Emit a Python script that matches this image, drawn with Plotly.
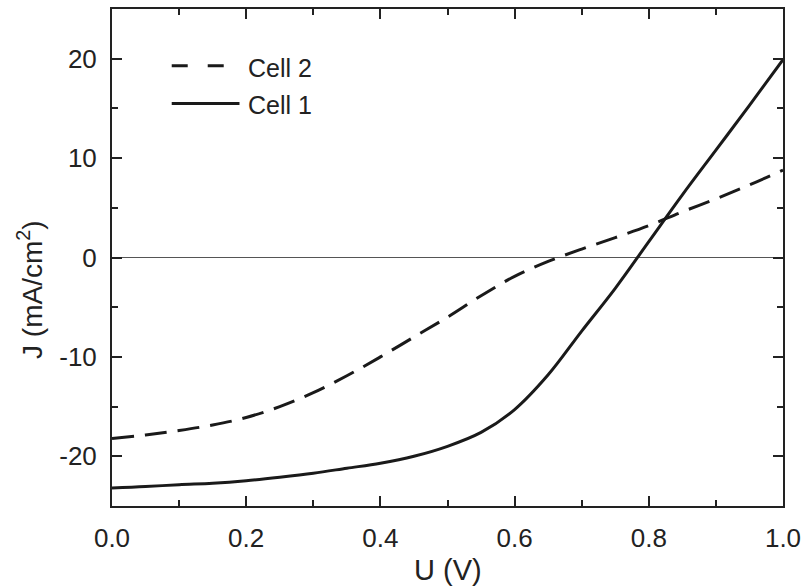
import plotly.graph_objects as go

# Voltage grid (V)
u_values = [0.0, 0.05, 0.1, 0.15, 0.2, 0.25, 0.3, 0.35, 0.4, 0.45, 0.5,
            0.55, 0.6, 0.65, 0.7, 0.75, 0.8, 0.85, 0.9, 0.95, 1.0]
# Cell 1 (solid) current density, mA/cm2
j_cell1 = [-23.2, -23.05, -22.85, -22.7, -22.45, -22.1, -21.7, -21.2, -20.7, -20.0, -19.0,
           -17.6, -15.3, -11.8, -7.4, -3.1, 1.6, 6.3, 10.8, 15.3, 19.9]
# Cell 2 (dashed) current density, mA/cm2
j_cell2 = [-18.2, -17.85, -17.4, -16.85, -16.1, -15.0, -13.6, -11.9, -10.0, -8.0, -6.0,
           -3.85, -1.9, -0.4, 0.85, 2.0, 3.2, 4.6, 5.9, 7.3, 8.8]

x_ticks = [0.0, 0.2, 0.4, 0.6, 0.8, 1.0]
x_labels = ["0.0", "0.2", "0.4", "0.6", "0.8", "1.0"]
y_ticks = [-20, -10, 0, 10, 20]
y_labels = ["-20", "-10", "0", "10", "20"]

FONT = "Liberation Sans, Arial, sans-serif"
INK = "#222222"
LINE = "#1a1a1a"

fig = go.Figure()
fig.add_trace(go.Scatter(x=u_values, y=j_cell2, mode="lines", name="Cell 2",
                         line=dict(color=LINE, width=3, dash="22px,11px", shape="spline", smoothing=1.0)))
fig.add_trace(go.Scatter(x=u_values, y=j_cell1, mode="lines", name="Cell 1",
                         line=dict(color=LINE, width=3, shape="spline", smoothing=1.0)))

axis_common = dict(
    showline=True, linecolor=INK, linewidth=2, mirror="ticks",
    ticks="inside", ticklen=10, tickwidth=2, tickcolor=INK,
    showgrid=False, tickfont=dict(family=FONT, size=26, color=INK),
    ticklabelstandoff=8,
)

fig.update_xaxes(range=[0, 1], tickvals=x_ticks, ticktext=x_labels,
                 minor=dict(ticks="inside", ticklen=6, tickwidth=2, tickcolor=INK, dtick=0.1, showgrid=False),
                 zeroline=False, **axis_common)
fig.update_yaxes(range=[-25, 25], tickvals=y_ticks, ticktext=y_labels,
                 minor=dict(ticks="inside", ticklen=6, tickwidth=2, tickcolor=INK, dtick=5, showgrid=False),
                 zeroline=True, zerolinecolor="#555555", zerolinewidth=1, **axis_common)

# Legend drawn as key lines + labels (long key samples as in the original)
legend_names = ["Cell 2", "Cell 1"]
legend_dash = ["16px,20px", "solid"]
legend_y = [0.886, 0.810]
shapes = []
annotations = []
for name, dash, ly in zip(legend_names, legend_dash, legend_y):
    shapes.append(dict(type="line", xref="paper", yref="paper", x0=0.089, x1=0.19, y0=ly, y1=ly,
                       line=dict(color=LINE, width=3, dash=dash)))
    annotations.append(dict(text=name, xref="paper", yref="paper", x=0.199, y=ly - 0.004,
                            xanchor="left", yanchor="middle", showarrow=False,
                            font=dict(family=FONT, size=25, color=INK)))

annotations += [
    dict(text="U (V)", xref="paper", yref="paper", x=0.5, y=-0.128,
         xanchor="center", yanchor="middle", showarrow=False,
         font=dict(family=FONT, size=29, color=INK)),
    dict(text="J (mA/cm<sup>2</sup>)", xref="paper", yref="paper", x=-0.122, y=0.435,
         xanchor="center", yanchor="middle", textangle=-90, showarrow=False,
         font=dict(family=FONT, size=28, color=INK)),
]

fig.update_layout(
    width=808, height=588,
    margin=dict(l=112, r=22, t=7, b=82),
    paper_bgcolor="white", plot_bgcolor="white",
    font=dict(family=FONT, color=INK),
    showlegend=False,
    shapes=shapes,
    annotations=annotations,
)

fig.write_html("out.html")
